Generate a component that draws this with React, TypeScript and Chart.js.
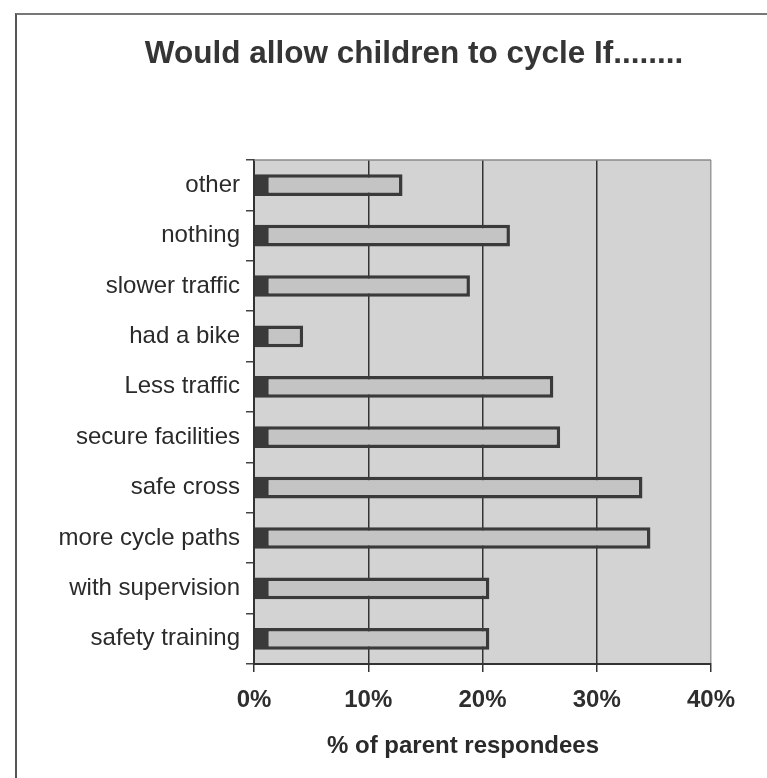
import React, { useEffect, useRef } from 'react';
import { Chart, registerables } from 'chart.js';

Chart.register(...registerables);

const categories = [
  'other',
  'nothing',
  'slower traffic',
  'had a bike',
  'Less traffic',
  'secure facilities',
  'safe cross',
  'more cycle paths',
  'with supervision',
  'safety training',
];
const percentValues = [13.0, 22.4, 18.9, 4.3, 26.2, 26.8, 34.0, 34.7, 20.6, 20.6];
const xTickValues = [0, 10, 20, 30, 40];
const titleText = 'Would allow children to cycle If........';
const xAxisTitle = '% of parent respondees';

const FONT = "'Liberation Sans', Arial, Helvetica, sans-serif";

const decorPlugin = {
  id: 'decor',
  beforeDraw(chart: any) {
    const { ctx, chartArea } = chart;
    ctx.save();
    ctx.fillStyle = '#d3d3d3';
    ctx.fillRect(chartArea.left, chartArea.top, chartArea.right - chartArea.left, chartArea.bottom - chartArea.top);
    ctx.restore();
  },
  afterDraw(chart: any) {
    const { ctx, chartArea } = chart;
    ctx.save();
    ctx.strokeStyle = '#8a8a8a';
    ctx.lineWidth = 1.5;
    ctx.beginPath();
    ctx.moveTo(chartArea.left, chartArea.top);
    ctx.lineTo(chartArea.right, chartArea.top);
    ctx.stroke();
    ctx.textAlign = 'center';
    ctx.textBaseline = 'alphabetic';
    ctx.fillStyle = '#353535';
    ctx.font = `bold 31.5px ${FONT}`;
    ctx.fillText(titleText, 414, 63);
    ctx.fillStyle = '#2a2a2a';
    ctx.font = `bold 24px ${FONT}`;
    ctx.fillText(xAxisTitle, 463, 753);
    ctx.restore();
  },
};

export default function App() {
  const canvasRef = useRef<HTMLCanvasElement | null>(null);

  useEffect(() => {
    if (!canvasRef.current) return;
    const chart = new Chart(canvasRef.current, {
      type: 'bar',
      data: {
        labels: categories,
        datasets: [
          {
            data: percentValues,
            backgroundColor: '#c4c4c4',
            borderColor: '#3a3a3a',
            borderWidth: { left: 14, top: 3.5, right: 3.5, bottom: 3.5 } as any,
            borderSkipped: false,
            barPercentage: 0.43,
            categoryPercentage: 1,
          },
        ],
      },
      options: {
        indexAxis: 'y',
        responsive: false,
        animation: false,
        layout: { padding: { left: 0, right: 56, top: 160, bottom: 0 } },
        plugins: {
          legend: { display: false },
          tooltip: { enabled: false },
          title: { display: false },
        },
        scales: {
          x: {
            type: 'linear',
            min: 0,
            max: 40,
            afterBuildTicks: (s: any) => {
              s.ticks = xTickValues.map((v) => ({ value: v }));
            },
            afterFit: (s: any) => {
              s.height = 114;
            },
            ticks: {
              callback: (v: any) => `${v}%`,
              color: '#2e2e2e',
              font: { family: FONT, size: 24, weight: 'bold' },
              padding: 14,
              maxRotation: 0,
            },
            grid: {
              color: (c: any) => (c.tick && c.tick.value === 40 ? '#9a9a9a' : '#333'),
              tickColor: '#333',
              lineWidth: 1.5,
              tickLength: 8,
              drawTicks: true,
            },
            border: { color: '#333', width: 2 },
          },
          y: {
            type: 'category',
            afterFit: (s: any) => {
              s.width = 254;
            },
            ticks: {
              color: '#2a2a2a',
              font: { family: FONT, size: 24 },
              padding: 6,
            },
            grid: {
              offset: true,
              drawOnChartArea: false,
              drawTicks: true,
              tickLength: 8,
              color: '#444',
              lineWidth: 1.5,
            },
            border: { color: '#333', width: 2 },
          },
        },
      },
      plugins: [decorPlugin],
    });
    return () => chart.destroy();
  }, []);

  return (
    <div style={{ position: 'absolute', left: 0, top: 0, width: 767, height: 778, background: '#fff' }}>
      <div
        style={{
          position: 'absolute',
          left: 15,
          top: 13,
          width: 752,
          height: 765,
          borderLeft: '2px solid #555',
          borderTop: '2px solid #777',
          boxSizing: 'border-box',
        }}
      />
      <canvas ref={canvasRef} width={767} height={778} style={{ position: 'absolute', left: 0, top: 0 }} />
    </div>
  );
}
